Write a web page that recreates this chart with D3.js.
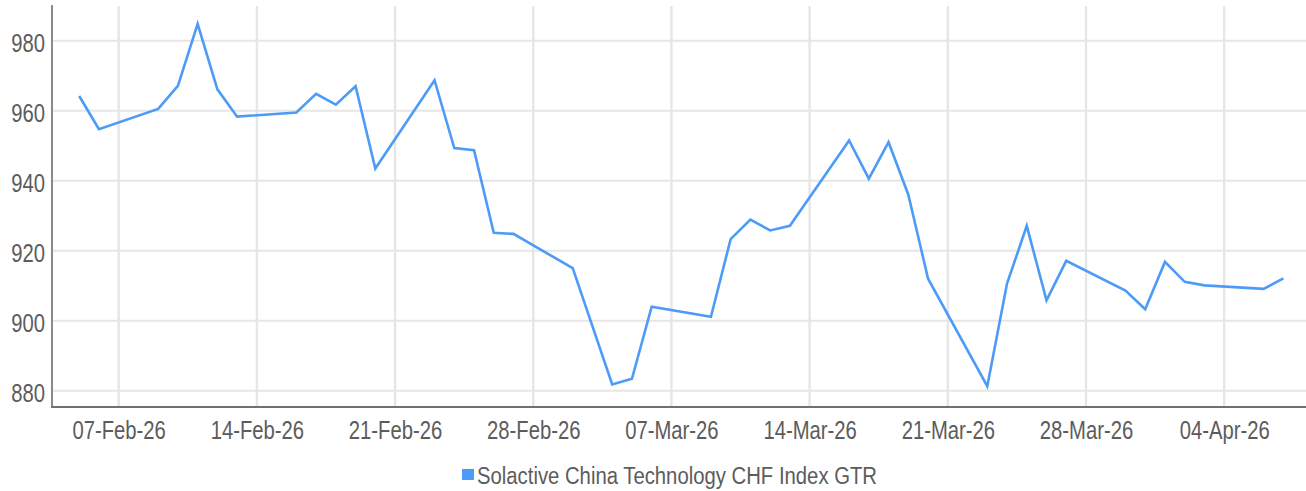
<!DOCTYPE html>
<html>
<head>
<meta charset="utf-8">
<script src="https://cdn.jsdelivr.net/npm/d3@7"></script>
<style>
  html, body { margin: 0; padding: 0; background: #fff; }
  svg { display: block; font-family: "Liberation Sans", Arial, sans-serif; }
</style>
</head>
<body>
<svg id="chart" width="1306" height="491"></svg>
<script>
// Solactive China Technology CHF Index GTR, daily closes
const dates = [
  '2026-02-05', '2026-02-06', '2026-02-09', '2026-02-10', '2026-02-11', '2026-02-12', '2026-02-13',
  '2026-02-16', '2026-02-17', '2026-02-18', '2026-02-19', '2026-02-20',
  '2026-02-23', '2026-02-24', '2026-02-25', '2026-02-26', '2026-02-27',
  '2026-03-02', '2026-03-04', '2026-03-05', '2026-03-06',
  '2026-03-09', '2026-03-10', '2026-03-11', '2026-03-12', '2026-03-13',
  '2026-03-16', '2026-03-17', '2026-03-18', '2026-03-19', '2026-03-20',
  '2026-03-23', '2026-03-24', '2026-03-25', '2026-03-26', '2026-03-27',
  '2026-03-30', '2026-03-31', '2026-04-01', '2026-04-02', '2026-04-03',
  '2026-04-06', '2026-04-07'
];
const values = [
  964.2, 954.7, 960.5, 967.1, 984.8, 966.1, 958.3,
  959.5, 964.8, 961.7, 967.0, 943.5,
  968.7, 949.3, 948.7, 925.1, 924.8,
  915.0, 881.8, 883.4, 904.0,
  901.1, 923.3, 928.9, 925.8, 927.1,
  951.5, 940.6, 951.0, 936.0, 912.0,
  881.3, 910.6, 927.1, 905.8, 917.1,
  908.6, 903.3, 916.8, 911.1, 910.1,
  909.1, 912.1
];
const yTicks = [880, 900, 920, 940, 960, 980];
const xTicks = ['2026-02-07', '2026-02-14', '2026-02-21', '2026-02-28', '2026-03-07',
                '2026-03-14', '2026-03-21', '2026-03-28', '2026-04-04'];
const seriesName = 'Solactive China Technology CHF Index GTR';

const parse = d3.timeParse('%Y-%m-%d');
const fmt = d3.timeFormat('%d-%b-%y');
const data = dates.map((d, i) => ({ date: parse(d), value: values[i] }));

const plot = { left: 52, right: 1306, top: 6, bottom: 407 };
const lineColor = '#4c9bf7';
const textColor = '#5c5c5c';
// no condensed font installed, so squeeze the regular one
const squeeze = 0.81;

const x = d3.scaleTime()
  .domain([parse('2026-02-05'), parse('2026-04-07')])
  .range([79.2, 1283.4]);
const y = d3.scaleLinear()
  .domain([880, 980])
  .range([390.7, 40.7]);

const svg = d3.select('#chart');

// gridlines
svg.append('g')
  .selectAll('line')
  .data(yTicks)
  .join('line')
  .attr('x1', plot.left)
  .attr('x2', plot.right)
  .attr('y1', d => y(d))
  .attr('y2', d => y(d))
  .attr('stroke', '#e6e6e6')
  .attr('stroke-width', 2);

svg.append('g')
  .selectAll('line')
  .data(xTicks.map(parse))
  .join('line')
  .attr('x1', d => x(d))
  .attr('x2', d => x(d))
  .attr('y1', plot.top)
  .attr('y2', plot.bottom)
  .attr('stroke', '#e6e6e6')
  .attr('stroke-width', 2.4);

// axes
const yAxis = svg.append('g')
  .attr('transform', 'translate(' + plot.left + ',0)')
  .call(d3.axisLeft(y).tickValues(yTicks).tickSize(0));
yAxis.select('.domain').remove();
yAxis.selectAll('text')
  .attr('fill', textColor)
  .attr('x', -7 / squeeze)
  .attr('dy', '0.44em')
  .attr('transform', 'scale(' + squeeze + ',1)')
  .style('font-size', '25px');

const xAxis = svg.append('g')
  .attr('transform', 'translate(0,' + plot.bottom + ')')
  .call(d3.axisBottom(x).tickValues(xTicks.map(parse)).tickFormat(fmt).tickSize(0).tickPadding(14));
xAxis.select('.domain').remove();
xAxis.selectAll('text')
  .attr('fill', textColor)
  .attr('transform', 'scale(' + squeeze + ',1)')
  .style('font-size', '25px');

svg.append('line')
  .attr('x1', plot.left).attr('x2', plot.left)
  .attr('y1', plot.top - 1).attr('y2', plot.bottom)
  .attr('stroke', '#8a8a8a')
  .attr('stroke-width', 2);
svg.append('line')
  .attr('x1', plot.left - 1).attr('x2', plot.right)
  .attr('y1', plot.bottom).attr('y2', plot.bottom)
  .attr('stroke', '#707070')
  .attr('stroke-width', 2);

// series line
const line = d3.line()
  .x(d => x(d.date))
  .y(d => y(d.value));

svg.append('path')
  .datum(data)
  .attr('fill', 'none')
  .attr('stroke', lineColor)
  .attr('stroke-width', 2.6)
  .attr('stroke-linejoin', 'miter')
  .attr('d', line);

// legend
const legend = svg.append('g').attr('transform', 'translate(462,469)');
legend.append('rect')
  .attr('width', 12)
  .attr('height', 11)
  .attr('fill', lineColor);
legend.append('text')
  .attr('x', 15)
  .attr('y', 15.4)
  .attr('fill', textColor)
  .attr('textLength', 400)
  .attr('lengthAdjust', 'spacingAndGlyphs')
  .style('font-size', '23.5px')
  .text(seriesName);
</script>
</body>
</html>
